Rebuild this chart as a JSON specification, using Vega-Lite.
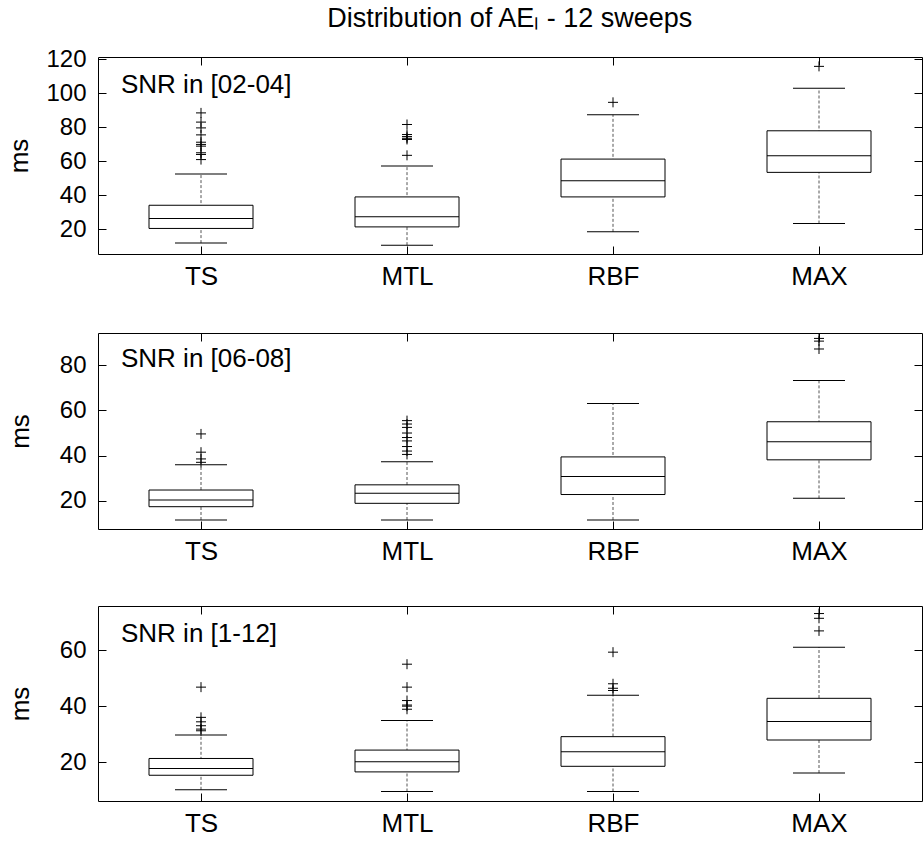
{
  "$schema": "https://vega.github.io/schema/vega-lite/v6.json",
  "background": "white",
  "padding": {"left": 6, "top": 4, "right": 3, "bottom": 0},
  "title": {"text": "Distribution of AEₗ - 12 sweeps", "fontSize": 27, "fontWeight": "normal", "font": "Liberation Sans", "color": "black", "anchor": "middle", "offset": 14, "dx": 45},
  "datasets": {
    "boxes": [
      {"panel": "p1", "method": "TS", "lo": 12, "q1": 20.6, "med": 26.4, "q3": 34.2, "hi": 52.5},
      {"panel": "p1", "method": "MTL", "lo": 10.8, "q1": 21.5, "med": 27.4, "q3": 39.1, "hi": 57.2},
      {"panel": "p1", "method": "RBF", "lo": 18.6, "q1": 39.1, "med": 48.6, "q3": 61.3, "hi": 87.3},
      {"panel": "p1", "method": "MAX", "lo": 23.5, "q1": 53.5, "med": 63.3, "q3": 77.9, "hi": 102.8},
      {"panel": "p2", "method": "TS", "lo": 11.4, "q1": 17.3, "med": 20.3, "q3": 24.7, "hi": 35.9},
      {"panel": "p2", "method": "MTL", "lo": 11.4, "q1": 18.8, "med": 23.3, "q3": 27.0, "hi": 37.2},
      {"panel": "p2", "method": "RBF", "lo": 11.4, "q1": 22.7, "med": 30.7, "q3": 39.4, "hi": 63.1},
      {"panel": "p2", "method": "MAX", "lo": 21.0, "q1": 38.1, "med": 46.1, "q3": 55.0, "hi": 73.3},
      {"panel": "p3", "method": "TS", "lo": 10.2, "q1": 15.4, "med": 17.8, "q3": 21.4, "hi": 29.8},
      {"panel": "p3", "method": "MTL", "lo": 9.6, "q1": 16.6, "med": 20.2, "q3": 24.4, "hi": 35.0},
      {"panel": "p3", "method": "RBF", "lo": 9.6, "q1": 18.6, "med": 23.8, "q3": 29.2, "hi": 44.0},
      {"panel": "p3", "method": "MAX", "lo": 16.2, "q1": 28.0, "med": 34.6, "q3": 42.9, "hi": 61.2}
    ],
    "outliers": [
      {"panel": "p1", "method": "TS", "v": 88.4}, {"panel": "p1", "method": "TS", "v": 83}, {"panel": "p1", "method": "TS", "v": 79.6},
      {"panel": "p1", "method": "TS", "v": 75.5}, {"panel": "p1", "method": "TS", "v": 71.2}, {"panel": "p1", "method": "TS", "v": 69.9},
      {"panel": "p1", "method": "TS", "v": 68.9}, {"panel": "p1", "method": "TS", "v": 65}, {"panel": "p1", "method": "TS", "v": 64},
      {"panel": "p1", "method": "TS", "v": 61},
      {"panel": "p1", "method": "MTL", "v": 81.6}, {"panel": "p1", "method": "MTL", "v": 75.7}, {"panel": "p1", "method": "MTL", "v": 74.5},
      {"panel": "p1", "method": "MTL", "v": 73.5}, {"panel": "p1", "method": "MTL", "v": 72.8}, {"panel": "p1", "method": "MTL", "v": 63.5},
      {"panel": "p1", "method": "RBF", "v": 94.6},
      {"panel": "p1", "method": "MAX", "v": 115.7},
      {"panel": "p2", "method": "TS", "v": 49.6}, {"panel": "p2", "method": "TS", "v": 41.5}, {"panel": "p2", "method": "TS", "v": 38.5},
      {"panel": "p2", "method": "TS", "v": 37},
      {"panel": "p2", "method": "MTL", "v": 55.5}, {"panel": "p2", "method": "MTL", "v": 54}, {"panel": "p2", "method": "MTL", "v": 52.5},
      {"panel": "p2", "method": "MTL", "v": 50}, {"panel": "p2", "method": "MTL", "v": 48}, {"panel": "p2", "method": "MTL", "v": 46.5},
      {"panel": "p2", "method": "MTL", "v": 44}, {"panel": "p2", "method": "MTL", "v": 42}, {"panel": "p2", "method": "MTL", "v": 40.5},
      {"panel": "p2", "method": "MAX", "v": 92}, {"panel": "p2", "method": "MAX", "v": 90.8}, {"panel": "p2", "method": "MAX", "v": 87.3},
      {"panel": "p3", "method": "TS", "v": 46.9}, {"panel": "p3", "method": "TS", "v": 36.1}, {"panel": "p3", "method": "TS", "v": 34.5},
      {"panel": "p3", "method": "TS", "v": 33.1}, {"panel": "p3", "method": "TS", "v": 31.9}, {"panel": "p3", "method": "TS", "v": 31.3},
      {"panel": "p3", "method": "MTL", "v": 55.1}, {"panel": "p3", "method": "MTL", "v": 46.9}, {"panel": "p3", "method": "MTL", "v": 42.1},
      {"panel": "p3", "method": "MTL", "v": 40.5}, {"panel": "p3", "method": "MTL", "v": 40.1}, {"panel": "p3", "method": "MTL", "v": 39},
      {"panel": "p3", "method": "RBF", "v": 59.4}, {"panel": "p3", "method": "RBF", "v": 48.1}, {"panel": "p3", "method": "RBF", "v": 46.5},
      {"panel": "p3", "method": "RBF", "v": 45.7},
      {"panel": "p3", "method": "MAX", "v": 73.2}, {"panel": "p3", "method": "MAX", "v": 71.5}, {"panel": "p3", "method": "MAX", "v": 67}
    ]
  },
  "spacing": 40,
  "vconcat": [
    {
      "width": 824, "height": 197,
      "resolve": {"axis": {"x": "independent", "y": "independent"}},
      "layer": [
        {
          "data": {"name": "boxes"}, "transform": [{"filter": "datum.panel === 'p1'"}],
          "mark": {"type": "rule", "color": "#555", "strokeDash": [3, 2], "strokeWidth": 1},
          "encoding": {
            "x": {"field": "method", "type": "nominal", "scale": {"type": "point", "padding": 0.5, "domain": ["TS", "MTL", "RBF", "MAX"]}, "axis": {"orient": "bottom", "title": null, "labelAngle": 0, "ticks": false}},
            "y": {"field": "lo", "type": "quantitative", "scale": {"domain": [5.6, 121.2], "nice": false, "zero": false}, "axis": {"orient": "left", "title": "ms", "ticks": false, "values": [20, 40, 60, 80, 100, 120]}},
            "y2": {"field": "hi"}
          }
        },
        {
          "data": {"name": "boxes"}, "transform": [{"filter": "datum.panel === 'p1'"}],
          "mark": {"type": "bar", "size": 104, "fill": "white", "stroke": "black", "strokeWidth": 1},
          "encoding": {
            "x": {"field": "method", "type": "nominal", "axis": {"orient": "top", "title": null, "labels": false, "tickSize": -8}},
            "y": {"field": "q1", "type": "quantitative", "axis": {"orient": "right", "title": null, "labels": false, "tickSize": -8, "values": [20, 40, 60, 80, 100, 120]}},
            "y2": {"field": "q3"}
          }
        },
        {
          "data": {"name": "boxes"}, "transform": [{"filter": "datum.panel === 'p1'"}],
          "mark": {"type": "tick", "size": 104, "thickness": 1, "color": "black", "opacity": 1},
          "encoding": {
            "x": {"field": "method", "type": "nominal", "axis": {"orient": "bottom", "title": null, "labels": false, "tickSize": -8}},
            "y": {"field": "med", "type": "quantitative", "axis": {"orient": "left", "title": null, "labels": false, "tickSize": -8, "values": [20, 40, 60, 80, 100, 120]}}
          }
        },
        {
          "data": {"name": "boxes"}, "transform": [{"filter": "datum.panel === 'p1'"}],
          "mark": {"type": "tick", "size": 52, "thickness": 1, "color": "black", "opacity": 1},
          "encoding": {"x": {"field": "method", "type": "nominal", "axis": null}, "y": {"field": "lo", "type": "quantitative", "axis": null}}
        },
        {
          "data": {"name": "boxes"}, "transform": [{"filter": "datum.panel === 'p1'"}],
          "mark": {"type": "tick", "size": 52, "thickness": 1, "color": "black", "opacity": 1},
          "encoding": {"x": {"field": "method", "type": "nominal", "axis": null}, "y": {"field": "hi", "type": "quantitative", "axis": null}}
        },
        {
          "data": {"name": "outliers"}, "transform": [{"filter": "datum.panel === 'p1'"}],
          "mark": {"type": "point", "shape": "M-1,0L1,0M0,-1L0,1", "size": 100, "filled": false, "stroke": "black", "strokeWidth": 1, "opacity": 1},
          "encoding": {"x": {"field": "method", "type": "nominal", "axis": null}, "y": {"field": "v", "type": "quantitative", "axis": null}}
        },
        {
          "data": {"values": [{}]},
          "mark": {"type": "text", "text": "SNR in [02-04]", "align": "left", "baseline": "middle", "dx": -80, "fontSize": 26, "font": "Liberation Sans", "color": "black"},
          "encoding": {"x": {"datum": "TS", "type": "nominal", "axis": null}, "y": {"datum": 105, "type": "quantitative", "axis": null}}
        }
      ]
    },
    {
      "width": 824, "height": 196,
      "resolve": {"axis": {"x": "independent", "y": "independent"}},
      "layer": [
        {
          "data": {"name": "boxes"}, "transform": [{"filter": "datum.panel === 'p2'"}],
          "mark": {"type": "rule", "color": "#555", "strokeDash": [3, 2], "strokeWidth": 1},
          "encoding": {
            "x": {"field": "method", "type": "nominal", "scale": {"type": "point", "padding": 0.5, "domain": ["TS", "MTL", "RBF", "MAX"]}, "axis": {"orient": "bottom", "title": null, "labelAngle": 0, "ticks": false}},
            "y": {"field": "lo", "type": "quantitative", "scale": {"domain": [7.4, 94.4], "nice": false, "zero": false}, "axis": {"orient": "left", "title": "ms", "ticks": false, "values": [20, 40, 60, 80]}},
            "y2": {"field": "hi"}
          }
        },
        {
          "data": {"name": "boxes"}, "transform": [{"filter": "datum.panel === 'p2'"}],
          "mark": {"type": "bar", "size": 104, "fill": "white", "stroke": "black", "strokeWidth": 1},
          "encoding": {
            "x": {"field": "method", "type": "nominal", "axis": {"orient": "top", "title": null, "labels": false, "tickSize": -8}},
            "y": {"field": "q1", "type": "quantitative", "axis": {"orient": "right", "title": null, "labels": false, "tickSize": -8, "values": [20, 40, 60, 80]}},
            "y2": {"field": "q3"}
          }
        },
        {
          "data": {"name": "boxes"}, "transform": [{"filter": "datum.panel === 'p2'"}],
          "mark": {"type": "tick", "size": 104, "thickness": 1, "color": "black", "opacity": 1},
          "encoding": {
            "x": {"field": "method", "type": "nominal", "axis": {"orient": "bottom", "title": null, "labels": false, "tickSize": -8}},
            "y": {"field": "med", "type": "quantitative", "axis": {"orient": "left", "title": null, "labels": false, "tickSize": -8, "values": [20, 40, 60, 80]}}
          }
        },
        {
          "data": {"name": "boxes"}, "transform": [{"filter": "datum.panel === 'p2'"}],
          "mark": {"type": "tick", "size": 52, "thickness": 1, "color": "black", "opacity": 1},
          "encoding": {"x": {"field": "method", "type": "nominal", "axis": null}, "y": {"field": "lo", "type": "quantitative", "axis": null}}
        },
        {
          "data": {"name": "boxes"}, "transform": [{"filter": "datum.panel === 'p2'"}],
          "mark": {"type": "tick", "size": 52, "thickness": 1, "color": "black", "opacity": 1},
          "encoding": {"x": {"field": "method", "type": "nominal", "axis": null}, "y": {"field": "hi", "type": "quantitative", "axis": null}}
        },
        {
          "data": {"name": "outliers"}, "transform": [{"filter": "datum.panel === 'p2'"}],
          "mark": {"type": "point", "shape": "M-1,0L1,0M0,-1L0,1", "size": 100, "filled": false, "stroke": "black", "strokeWidth": 1, "opacity": 1},
          "encoding": {"x": {"field": "method", "type": "nominal", "axis": null}, "y": {"field": "v", "type": "quantitative", "axis": null}}
        },
        {
          "data": {"values": [{}]},
          "mark": {"type": "text", "text": "SNR in [06-08]", "align": "left", "baseline": "middle", "dx": -80, "fontSize": 26, "font": "Liberation Sans", "color": "black"},
          "encoding": {"x": {"datum": "TS", "type": "nominal", "axis": null}, "y": {"datum": 83, "type": "quantitative", "axis": null}}
        }
      ]
    },
    {
      "width": 824, "height": 195,
      "resolve": {"axis": {"x": "independent", "y": "independent"}},
      "layer": [
        {
          "data": {"name": "boxes"}, "transform": [{"filter": "datum.panel === 'p3'"}],
          "mark": {"type": "rule", "color": "#555", "strokeDash": [3, 2], "strokeWidth": 1},
          "encoding": {
            "x": {"field": "method", "type": "nominal", "scale": {"type": "point", "padding": 0.5, "domain": ["TS", "MTL", "RBF", "MAX"]}, "axis": {"orient": "bottom", "title": null, "labelAngle": 0, "ticks": false}},
            "y": {"field": "lo", "type": "quantitative", "scale": {"domain": [6.2, 75.9], "nice": false, "zero": false}, "axis": {"orient": "left", "title": "ms", "ticks": false, "values": [20, 40, 60]}},
            "y2": {"field": "hi"}
          }
        },
        {
          "data": {"name": "boxes"}, "transform": [{"filter": "datum.panel === 'p3'"}],
          "mark": {"type": "bar", "size": 104, "fill": "white", "stroke": "black", "strokeWidth": 1},
          "encoding": {
            "x": {"field": "method", "type": "nominal", "axis": {"orient": "top", "title": null, "labels": false, "tickSize": -8}},
            "y": {"field": "q1", "type": "quantitative", "axis": {"orient": "right", "title": null, "labels": false, "tickSize": -8, "values": [20, 40, 60]}},
            "y2": {"field": "q3"}
          }
        },
        {
          "data": {"name": "boxes"}, "transform": [{"filter": "datum.panel === 'p3'"}],
          "mark": {"type": "tick", "size": 104, "thickness": 1, "color": "black", "opacity": 1},
          "encoding": {
            "x": {"field": "method", "type": "nominal", "axis": {"orient": "bottom", "title": null, "labels": false, "tickSize": -8}},
            "y": {"field": "med", "type": "quantitative", "axis": {"orient": "left", "title": null, "labels": false, "tickSize": -8, "values": [20, 40, 60]}}
          }
        },
        {
          "data": {"name": "boxes"}, "transform": [{"filter": "datum.panel === 'p3'"}],
          "mark": {"type": "tick", "size": 52, "thickness": 1, "color": "black", "opacity": 1},
          "encoding": {"x": {"field": "method", "type": "nominal", "axis": null}, "y": {"field": "lo", "type": "quantitative", "axis": null}}
        },
        {
          "data": {"name": "boxes"}, "transform": [{"filter": "datum.panel === 'p3'"}],
          "mark": {"type": "tick", "size": 52, "thickness": 1, "color": "black", "opacity": 1},
          "encoding": {"x": {"field": "method", "type": "nominal", "axis": null}, "y": {"field": "hi", "type": "quantitative", "axis": null}}
        },
        {
          "data": {"name": "outliers"}, "transform": [{"filter": "datum.panel === 'p3'"}],
          "mark": {"type": "point", "shape": "M-1,0L1,0M0,-1L0,1", "size": 100, "filled": false, "stroke": "black", "strokeWidth": 1, "opacity": 1},
          "encoding": {"x": {"field": "method", "type": "nominal", "axis": null}, "y": {"field": "v", "type": "quantitative", "axis": null}}
        },
        {
          "data": {"values": [{}]},
          "mark": {"type": "text", "text": "SNR in [1-12]", "align": "left", "baseline": "middle", "dx": -80, "fontSize": 26, "font": "Liberation Sans", "color": "black"},
          "encoding": {"x": {"datum": "TS", "type": "nominal", "axis": null}, "y": {"datum": 66, "type": "quantitative", "axis": null}}
        }
      ]
    }
  ],
  "config": {
    "font": "Liberation Sans",
    "view": {"stroke": "black", "strokeWidth": 1},
    "axis": {
      "grid": false, "domain": false,
      "tickColor": "black", "tickWidth": 1,
      "labelFont": "Liberation Sans", "labelColor": "black",
      "titleFont": "Liberation Sans", "titleFontSize": 26, "titleFontWeight": "normal", "titleColor": "black"
    },
    "axisLeft": {"labelFontSize": 24, "labelPadding": 12, "minExtent": 52, "titlePadding": 13},
    "axisBottom": {"labelFontSize": 26, "labelPadding": 9},
    "axisRight": {"minExtent": 0},
    "axisTop": {"minExtent": 0}
  }
}
